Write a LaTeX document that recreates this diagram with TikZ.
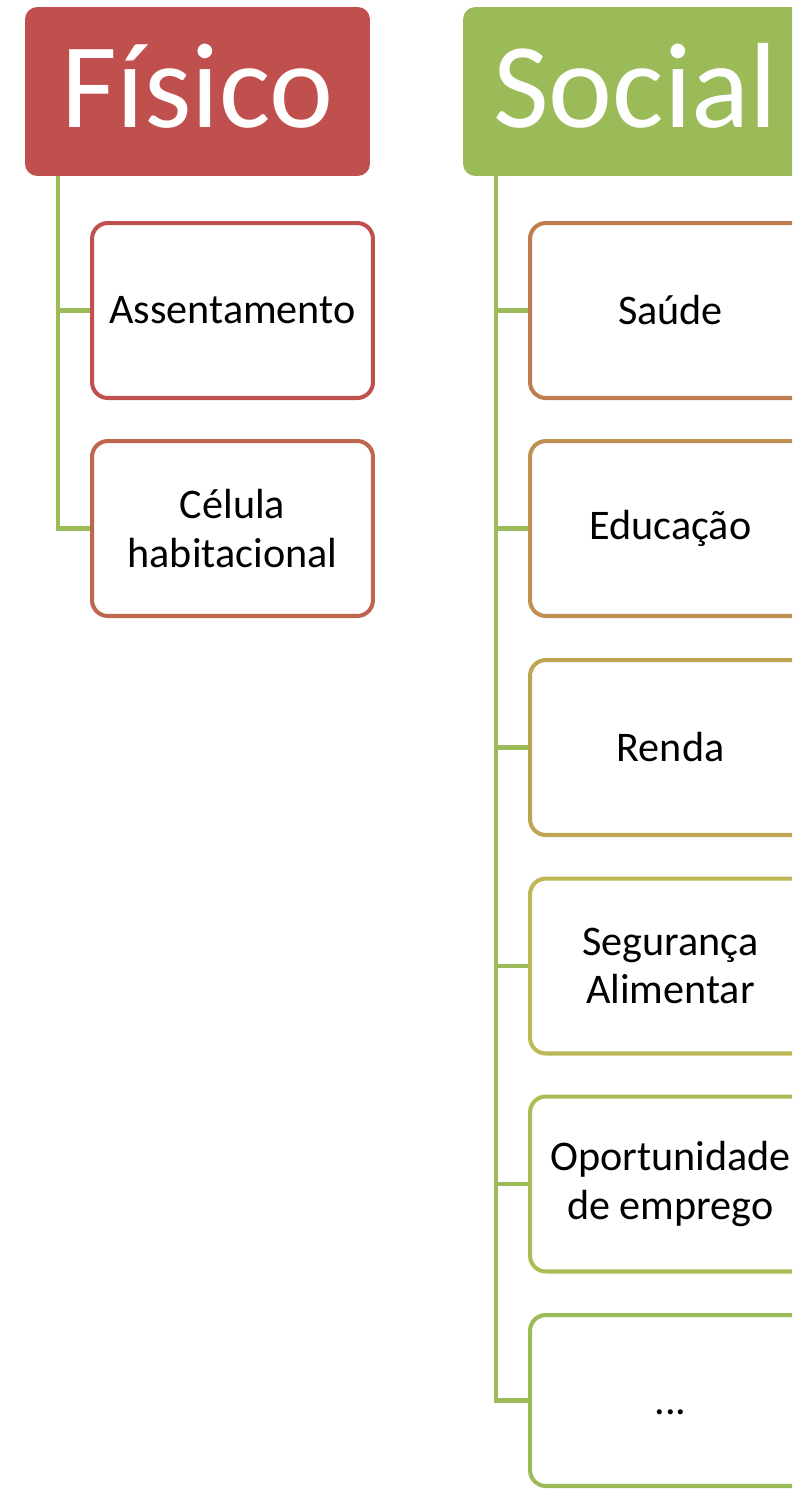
\documentclass[tikz,border=0pt]{standalone}
\usepackage{fontspec}
\setmainfont{Carlito}
\usepackage{tikz}

\definecolor{fisred}{RGB}{192,80,77}
\definecolor{socgreen}{RGB}{155,187,89}
\definecolor{tone1}{RGB}{191,102,79}
\definecolor{tone2}{RGB}{191,124,80}
\definecolor{tone3}{RGB}{190,145,82}
\definecolor{tone4}{RGB}{189,165,84}
\definecolor{tone5}{RGB}{188,184,86}
\definecolor{tone6}{RGB}{174,188,87}

\tikzset{
  header/.style={fill=#1, rounded corners=7pt, text=white,
    minimum width=6.9cm, minimum height=3.38cm, inner sep=0pt,
    text depth=0.24cm, font=\fontsize{69}{80}\selectfont},
  item/.style={draw=#1, line width=2.3pt, rounded corners=9pt, fill=white,
    minimum width=5.62cm, minimum height=3.5cm, inner sep=2pt,
    align=center, font=\fontsize{24}{27.5}\selectfont},
  link/.style={draw=socgreen, line width=2.3pt}
}

\begin{document}
\begin{tikzpicture}[x=0.02cm, y=-0.02cm]
    % Page
    \clip (0,0) rectangle (792,1489);
    \fill[white] (0,0) rectangle (792,1489);

    % Headers
    \node[header=fisred] (fisico) at (197.5,91.5) {Físico};
    \node[header=socgreen] (social) at (635.5,91.5) {Social};

    % Fisico items
    \node[item=fisred] (assent) at (232.5,310.5) {Assentamento};
    \node[item=tone1] (celula) at (232.5,528.5) {Célula\\habitacional};

    % Social items
    \node[item=tone2] (saude) at (670.5,310.5) {Saúde};
    \node[item=tone3] (educ) at (670.5,528.5) {Educação};
    \node[item=tone4] (renda) at (670.5,747.5) {Renda};
    \node[item=tone5] (segur) at (670.5,966) {Segurança\\Alimentar};
    \node[item=tone6] (oport) at (670.5,1184) {Oportunidade\\de emprego};
    \node[item=socgreen, minimum height=3.42cm] (etc) at (670.5,1400.5) {\vphantom{Sa}...};

    % Links
    \foreach \child in {assent,celula}
        \draw[link] ([xshift=0.66cm]fisico.south west) |- (\child.west);
    \foreach \child in {saude,educ,renda,segur,oport,etc}
        \draw[link] ([xshift=0.66cm]social.south west) |- (\child.west);
\end{tikzpicture}
\end{document}
